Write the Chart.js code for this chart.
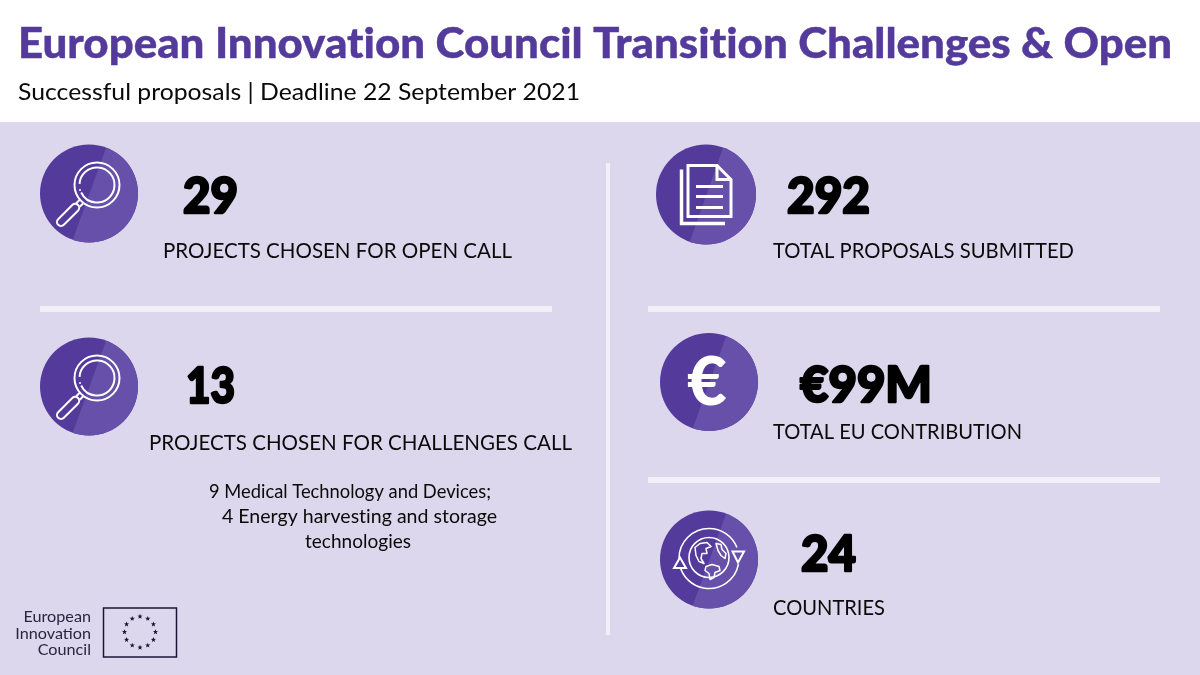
<!DOCTYPE html>
<html lang="en">
<head>
<meta charset="UTF-8">
<title>European Innovation Council Transition Challenges & Open</title>
<script src="https://cdn.jsdelivr.net/npm/chart.js@4/dist/chart.umd.min.js"></script>
<style>
  html, body { margin: 0; padding: 0; background: #fff; }
  canvas { display: block; }
</style>
</head>
<body>
<canvas id="chart" width="1200" height="675"></canvas>
<script>
// values
const chartTitle = 'European Innovation Council Transition Challenges & Open';
const chartSubtitle = 'Successful proposals | Deadline 22 September 2021';
const kpiValues = ['29', '13', '292', '€99M', '24'];
const kpiLabels = [
  'PROJECTS CHOSEN FOR OPEN CALL',
  'PROJECTS CHOSEN FOR CHALLENGES CALL',
  'TOTAL PROPOSALS SUBMITTED',
  'TOTAL EU CONTRIBUTION',
  'COUNTRIES'
];
const noteLines = [
  '9 Medical Technology and Devices;',
  '4 Energy harvesting and storage',
  'technologies'
];
const logoLines = ['European', 'Innovation', 'Council'];

// layout, in picture pixels (kept apart from the values)
const iconKinds = ['search', 'search', 'doc', 'euro', 'globe'];
const iconX = [89, 89, 706, 709, 709];
const iconY = [193.5, 386.5, 194.5, 382, 559.5];
const iconR = [49, 49, 50, 49, 49];
const valueBox = [[183, 213, 55], [186, 403, 49], [787, 213, 83], [800, 402, 132], [801, 571, 55]];
const labelBox = [[163, 258, 349], [149, 450, 423], [773, 258, 301], [773, 439, 249], [773, 615, 112]];
const noteBox = [[209, 498, 282], [222, 523, 275], [305, 548, 106]];
const dividers = [
  { x: [40, 552], y: [309, 309], w: 6 },
  { x: [648, 1160], y: [309, 309], w: 6 },
  { x: [648, 1160], y: [480, 480], w: 6 },
  { x: [608, 608], y: [163, 635], w: 4 }
];

const PURPLE = '#533a9b';
const PURPLE_LIGHT = '#6650a9';
const PANEL = '#dcd7ec';
const DIVIDER = '#f1eff8';
const INK = '#0a0a0a';

// draws real text squeezed to the width it has in the picture
function fitText(ctx, str, x, y, font, color, width, thicken) {
  ctx.save();
  ctx.font = font;
  ctx.textRendering = 'optimizeSpeed'; // no "ti" ligature in Lato
  ctx.fillStyle = color;
  ctx.textAlign = 'left';
  ctx.textBaseline = 'alphabetic';
  ctx.translate(x, y);
  ctx.scale(width / ctx.measureText(str).width, 1);
  if (thicken) {
    ctx.strokeStyle = color;
    ctx.lineWidth = thicken;
    ctx.lineJoin = 'round';
    ctx.strokeText(str, 0, 0);
  }
  ctx.fillText(str, 0, 0);
  ctx.restore();
}

function drawSearch(ctx) {
  // numbers are relative to the circle centre
  ctx.lineWidth = 2;
  ctx.beginPath(); ctx.arc(8, -8.5, 22.5, 0, Math.PI * 2); ctx.stroke();
  // inner ring has a small gap on the left
  ctx.beginPath(); ctx.arc(8, -8.5, 17.5, Math.PI * 1.02, Math.PI * 2.86); ctx.stroke();
  ctx.beginPath(); ctx.arc(-9, -3.5, 1, 0, Math.PI * 2); ctx.fill();
  ctx.save();
  ctx.translate(-28, 28.5);
  ctx.rotate(-Math.PI / 4);
  ctx.beginPath(); ctx.roundRect(-4, -4, 28, 8, 4); ctx.stroke();
  ctx.beginPath();
  ctx.moveTo(24, -2.5); ctx.lineTo(29, -2.5);
  ctx.moveTo(24, 2.5); ctx.lineTo(29, 2.5);
  ctx.stroke();
  ctx.restore();
}

function drawDoc(ctx) {
  ctx.lineWidth = 3;
  ctx.lineJoin = 'miter';
  ctx.beginPath();
  ctx.moveTo(-18, -29); ctx.lineTo(11, -29); ctx.lineTo(25, -15);
  ctx.lineTo(25, 22); ctx.lineTo(-18, 22); ctx.closePath();
  ctx.stroke();
  ctx.beginPath(); ctx.moveTo(11, -29); ctx.lineTo(11, -15); ctx.lineTo(25, -15); ctx.stroke();
  ctx.lineWidth = 3.5;
  ctx.beginPath(); ctx.moveTo(-24.5, -25); ctx.lineTo(-24.5, 29); ctx.lineTo(19, 29); ctx.stroke();
  ctx.lineWidth = 3;
  ctx.beginPath();
  [-8, 2, 13].forEach(y => { ctx.moveTo(-10, y); ctx.lineTo(17, y); });
  ctx.stroke();
}

function drawGlobe(ctx) {
  ctx.lineWidth = 1.6;
  ctx.beginPath(); ctx.arc(0, -2, 20, 0, Math.PI * 2); ctx.stroke();
  ctx.beginPath(); ctx.arc(0, -1, 30, Math.PI * 1.0, Math.PI * 1.88); ctx.stroke();
  ctx.beginPath(); ctx.arc(0, -1, 30, Math.PI * 0.06, Math.PI * 0.92); ctx.stroke();
  // arrow heads
  ctx.lineWidth = 2;
  ctx.fillStyle = PURPLE;
  ctx.beginPath(); ctx.moveTo(-29, -2); ctx.lineTo(-35, 8.5); ctx.lineTo(-23, 8.5); ctx.closePath(); ctx.fill(); ctx.stroke();
  ctx.fillStyle = PURPLE_LIGHT;
  ctx.beginPath(); ctx.moveTo(29, 3); ctx.lineTo(23.5, -8); ctx.lineTo(35, -8); ctx.closePath(); ctx.fill(); ctx.stroke();
  // rough continents
  ctx.lineWidth = 1.5;
  ctx.lineJoin = 'round';
  ctx.beginPath();
  ctx.moveTo(-14, -12); ctx.lineTo(-9, -16); ctx.lineTo(-2, -17); ctx.lineTo(2, -13); ctx.lineTo(-3, -11);
  ctx.lineTo(-2, -6); ctx.lineTo(-7, -6); ctx.lineTo(-8, -1); ctx.lineTo(-5, 4); ctx.lineTo(-10, 2);
  ctx.lineTo(-13, -4); ctx.closePath();
  ctx.stroke();
  ctx.beginPath();
  ctx.moveTo(7, -16); ctx.lineTo(12, -15); ctx.lineTo(13, -10); ctx.lineTo(17, -6); ctx.lineTo(16, -1);
  ctx.lineTo(12, -4); ctx.lineTo(9, -9); ctx.closePath();
  ctx.stroke();
  ctx.beginPath();
  ctx.moveTo(-3, 7); ctx.lineTo(3, 5); ctx.lineTo(10, 7); ctx.lineTo(11, 11); ctx.lineTo(6, 13);
  ctx.lineTo(5, 18); ctx.lineTo(1, 20); ctx.lineTo(0, 14); ctx.lineTo(-4, 11); ctx.closePath();
  ctx.stroke();
}

function drawStar(ctx, cx, cy, r) {
  ctx.beginPath();
  for (let i = 0; i < 10; i++) {
    const a = -Math.PI / 2 + i * Math.PI / 5;
    const d = i % 2 ? r * 0.42 : r;
    ctx.lineTo(cx + d * Math.cos(a), cy + d * Math.sin(a));
  }
  ctx.closePath();
  ctx.fill();
}

// panel goes under the datasets
const panelPlugin = {
  id: 'panel',
  beforeDatasetsDraw(chart) {
    const { ctx, scales: { x, y } } = chart;
    ctx.save();
    ctx.fillStyle = PANEL;
    ctx.fillRect(x.getPixelForValue(0), y.getPixelForValue(122), x.width, y.getPixelForValue(675) - y.getPixelForValue(122));
    ctx.restore();
  }
};

// icons and all the text go on top
const overlayPlugin = {
  id: 'overlay',
  afterDatasetsDraw(chart) {
    const { ctx, scales: { x, y } } = chart;

    iconKinds.forEach((kind, i) => {
      const cx = x.getPixelForValue(iconX[i]);
      const cy = y.getPixelForValue(iconY[i]);
      const r = iconR[i];
      // lighter diagonal part of the disc
      ctx.save();
      ctx.beginPath();
      ctx.arc(cx, cy, r, 0, Math.PI * 2);
      ctx.clip();
      ctx.beginPath();
      ctx.moveTo(cx + 19, cy - r - 2);
      ctx.lineTo(cx + r + 2, cy - r - 2);
      ctx.lineTo(cx + r + 2, cy + r + 2);
      ctx.lineTo(cx - 18, cy + r + 2);
      ctx.closePath();
      ctx.fillStyle = PURPLE_LIGHT;
      ctx.fill();
      ctx.restore();

      ctx.save();
      ctx.translate(cx, cy);
      ctx.strokeStyle = '#fff';
      ctx.fillStyle = '#fff';
      if (kind === 'search') drawSearch(ctx);
      if (kind === 'doc') drawDoc(ctx);
      if (kind === 'globe') drawGlobe(ctx);
      ctx.restore();
      if (kind === 'euro') {
        fitText(ctx, '€', cx - 22, cy + 23, '900 66px Lato', '#fff', 40);
      }
    });

    fitText(ctx, chartTitle, 18, 58, '900 42px Lato', PURPLE, 1154, 0.4);
    fitText(ctx, chartSubtitle, 18, 100, '400 24px Lato', INK, 562);

    kpiValues.forEach((v, i) => {
      const [bx, by, bw] = valueBox[i];
      fitText(ctx, v, x.getPixelForValue(bx), y.getPixelForValue(by), '900 50px Lato', '#000', bw, 2.5);
    });
    kpiLabels.forEach((t, i) => {
      const [bx, by, bw] = labelBox[i];
      fitText(ctx, t, x.getPixelForValue(bx), y.getPixelForValue(by), '400 21px Lato', INK, bw);
    });
    noteLines.forEach((t, i) => {
      const [bx, by, bw] = noteBox[i];
      fitText(ctx, t, x.getPixelForValue(bx), y.getPixelForValue(by), '400 18.5px Lato', INK, bw);
    });

    // EIC logo
    ctx.save();
    ctx.font = '400 16.2px Lato';
    ctx.fillStyle = '#2a2440';
    ctx.textAlign = 'right';
    logoLines.forEach((t, i) => ctx.fillText(t, 91, 622 + i * 16.5));
    ctx.strokeStyle = '#1c1635';
    ctx.lineWidth = 1.5;
    ctx.strokeRect(103.5, 608, 73, 49);
    ctx.fillStyle = '#1c1635';
    for (let i = 0; i < 12; i++) {
      const a = i * Math.PI / 6;
      drawStar(ctx, 140 + 15.5 * Math.cos(a), 632 + 15.5 * Math.sin(a), 2.7);
    }
    ctx.restore();
  }
};

const datasets = [
  {
    label: 'icons',
    data: iconX.map((px, i) => ({ x: px, y: iconY[i] })),
    pointStyle: 'circle',
    pointRadius: iconR,
    pointHoverRadius: iconR,
    pointBorderWidth: 0,
    pointBackgroundColor: PURPLE,
    showLine: false,
    clip: false
  }
].concat(dividers.map((d, i) => ({
  label: 'divider ' + i,
  data: d.x.map((px, j) => ({ x: px, y: d.y[j] })),
  showLine: true,
  borderColor: DIVIDER,
  borderWidth: d.w,
  pointRadius: 0,
  clip: false,
  order: 2
})));

new Chart(document.getElementById('chart'), {
  type: 'scatter',
  data: { datasets },
  plugins: [panelPlugin, overlayPlugin],
  options: {
    responsive: false,
    animation: false,
    devicePixelRatio: 1,
    layout: { padding: 0, autoPadding: false },
    plugins: { legend: { display: false }, tooltip: { enabled: false } },
    scales: {
      x: { type: 'linear', min: 0, max: 1200, display: false },
      y: { type: 'linear', min: 0, max: 675, reverse: true, display: false }
    }
  }
});
</script>
</body>
</html>
